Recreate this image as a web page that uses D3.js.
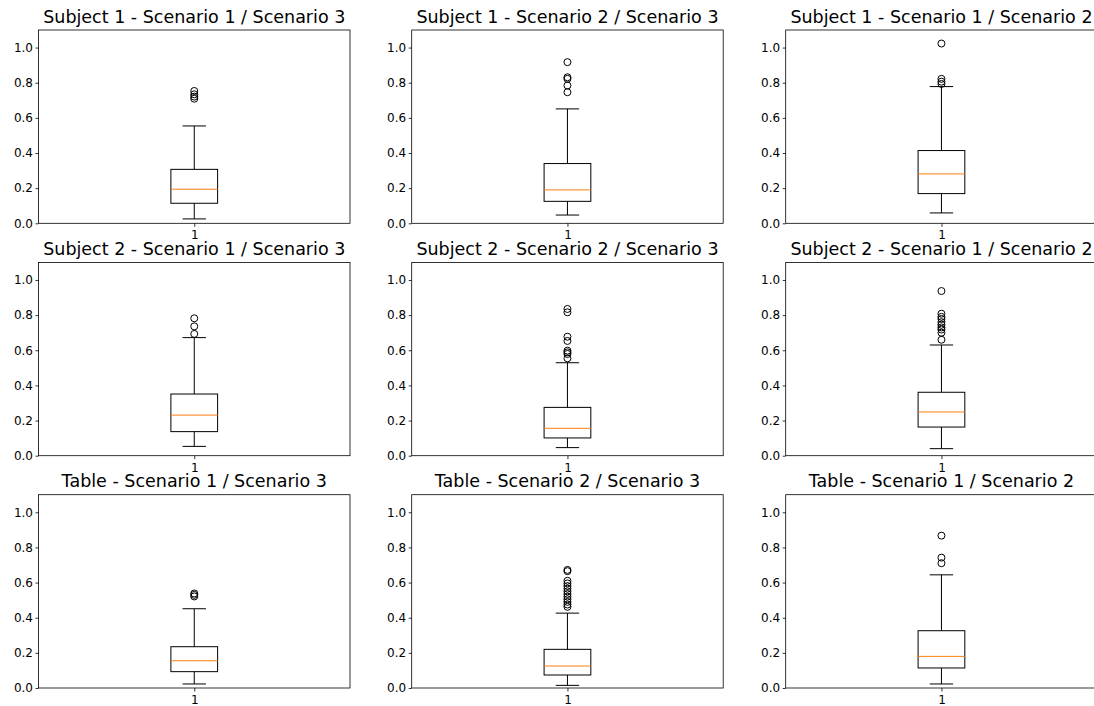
<!DOCTYPE html>
<html>
<head>
<meta charset="utf-8">
<script src="https://cdn.jsdelivr.net/npm/d3@7"></script>
<style>
  html, body { margin: 0; padding: 0; background: #fff; overflow: hidden; }
  svg { display: block; font-family: "DejaVu Sans", sans-serif; }
</style>
</head>
<body>
<svg id="chart" width="1094" height="706"></svg>
<script>
// ---- data ----
const titles = [
  "Subject 1 - Scenario 1 / Scenario 3",
  "Subject 1 - Scenario 2 / Scenario 3",
  "Subject 1 - Scenario 1 / Scenario 2",
  "Subject 2 - Scenario 1 / Scenario 3",
  "Subject 2 - Scenario 2 / Scenario 3",
  "Subject 2 - Scenario 1 / Scenario 2",
  "Table - Scenario 1 / Scenario 3",
  "Table - Scenario 2 / Scenario 3",
  "Table - Scenario 1 / Scenario 2"
];
const whiskerLow  = [0.025, 0.047, 0.059, 0.053, 0.046, 0.040, 0.023, 0.015, 0.023];
const q1Values    = [0.114, 0.125, 0.169, 0.137, 0.101, 0.163, 0.093, 0.074, 0.114];
const medians     = [0.194, 0.190, 0.281, 0.231, 0.156, 0.249, 0.155, 0.125, 0.180];
const q3Values    = [0.307, 0.340, 0.414, 0.351, 0.275, 0.361, 0.235, 0.220, 0.326];
const whiskerHigh = [0.554, 0.651, 0.778, 0.672, 0.529, 0.630, 0.451, 0.426, 0.644];
const outliers = [
  [0.709, 0.721, 0.734, 0.753],
  [0.746, 0.784, 0.822, 0.831, 0.917],
  [0.793, 0.806, 0.822, 1.023],
  [0.693, 0.736, 0.782],
  [0.554, 0.579, 0.588, 0.598, 0.653, 0.677, 0.816, 0.835],
  [0.660, 0.700, 0.718, 0.730, 0.745, 0.760, 0.778, 0.790, 0.808, 0.937],
  [0.521, 0.530, 0.538],
  [0.462, 0.475, 0.490, 0.505, 0.520, 0.535, 0.550, 0.565, 0.580, 0.595, 0.610, 0.665, 0.672],
  [0.710, 0.742, 0.867]
];
const yTickValues = [0.0, 0.2, 0.4, 0.6, 0.8, 1.0];
const xTickLabels = ["1"];

// ---- layout ----
const colLefts = [38.5, 411.7, 785.7];
const rowTops = [30, 262.4, 494.7];
const pw = 311.5, ph = 193.3;
const boxWidth = 0.15;

const svg = d3.select("#chart");

titles.forEach((title, i) => {
  const r = Math.floor(i / 3), c = i % 3;
  const g = svg.append("g").attr("transform", `translate(${colLefts[c]},${rowTops[r]})`);
  const x = d3.scaleLinear().domain([0.5, 1.5]).range([0, pw]);
  const y = d3.scaleLinear().domain([0, 1.1]).range([ph, 0]);

  // axes
  const yAxis = d3.axisLeft(y).tickValues(yTickValues).tickFormat(d3.format(".1f")).tickSizeOuter(0).tickSize(3).tickPadding(2.5);
  const xAxis = d3.axisBottom(x).tickValues([1]).tickFormat((d, k) => xTickLabels[k]).tickSizeOuter(0).tickSize(3.5).tickPadding(4);
  const ya = g.append("g").call(yAxis);
  const xa = g.append("g").attr("transform", `translate(0,${ph})`).call(xAxis);
  [ya, xa].forEach(a => {
    a.select(".domain").remove();
    a.selectAll("text").attr("font-family", "DejaVu Sans").attr("font-size", 12).attr("fill", "#000");
    a.selectAll("line").attr("stroke", "#000").attr("stroke-width", 0.8);
  });

  // frame
  g.append("rect").attr("x", 0).attr("y", 0).attr("width", pw).attr("height", ph)
    .attr("fill", "none").attr("stroke", "#000").attr("stroke-width", 0.8);

  const xc = x(1);
  const bx0 = x(1 - boxWidth / 2), bx1 = x(1 + boxWidth / 2);
  const cx0 = x(1 - boxWidth / 4), cx1 = x(1 + boxWidth / 4);

  // whiskers
  g.append("line").attr("x1", xc).attr("x2", xc).attr("y1", y(whiskerLow[i])).attr("y2", y(q1Values[i]))
    .attr("stroke", "#000").attr("stroke-width", 1);
  g.append("line").attr("x1", xc).attr("x2", xc).attr("y1", y(q3Values[i])).attr("y2", y(whiskerHigh[i]))
    .attr("stroke", "#000").attr("stroke-width", 1);
  // caps
  [whiskerLow[i], whiskerHigh[i]].forEach(v => {
    g.append("line").attr("x1", cx0).attr("x2", cx1).attr("y1", y(v)).attr("y2", y(v))
      .attr("stroke", "#000").attr("stroke-width", 1);
  });
  // box
  g.append("rect").attr("x", bx0).attr("y", y(q3Values[i]))
    .attr("width", bx1 - bx0).attr("height", y(q1Values[i]) - y(q3Values[i]))
    .attr("fill", "none").attr("stroke", "#000").attr("stroke-width", 1);
  // median
  g.append("line").attr("x1", bx0).attr("x2", bx1).attr("y1", y(medians[i])).attr("y2", y(medians[i]))
    .attr("stroke", "#ff7f0e").attr("stroke-width", 1);
  // outliers
  g.selectAll("circle.out").data(outliers[i]).enter().append("circle")
    .attr("class", "out").attr("cx", xc).attr("cy", d => y(d)).attr("r", 3.5)
    .attr("fill", "none").attr("stroke", "#000").attr("stroke-width", 1);

  // title
  g.append("text").attr("x", pw / 2).attr("y", -7.5).attr("text-anchor", "middle")
    .attr("font-family", "DejaVu Sans").attr("font-size", 17.5).attr("fill", "#000").text(title);
});
</script>
</body>
</html>
